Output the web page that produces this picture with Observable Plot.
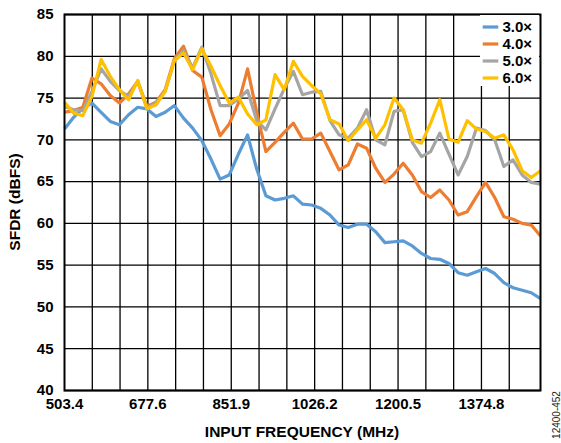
<!DOCTYPE html>
<html><head><meta charset="utf-8">
<script src="https://cdn.jsdelivr.net/npm/d3@7"></script>
<script src="https://cdn.jsdelivr.net/npm/@observablehq/plot@0.6"></script>
<style>body{margin:0;background:#fff} #chart{width:561px;height:443px}</style>
</head><body><div id="chart"></div>
<script>
const freqs = [503.4, 522.5, 541.7, 560.8, 579.9, 599.1, 618.2, 637.3, 656.4, 675.6,
  694.7, 713.8, 733.0, 752.1, 771.2, 790.4, 809.5, 828.6, 847.7, 866.9,
  886.0, 905.1, 924.3, 943.4, 962.5, 981.7, 1000.8, 1019.9, 1039.0, 1058.2,
  1077.3, 1096.4, 1115.6, 1134.7, 1153.8, 1173.0, 1192.1, 1211.2, 1230.3, 1249.5,
  1268.6, 1287.7, 1306.9, 1326.0, 1345.1, 1364.3, 1383.4, 1402.5, 1421.6, 1440.8,
  1459.9, 1479.0, 1498.2];
const s30 = [71.3, 72.7, 73.8, 74.4, 73.3, 72.2, 71.8, 73.0, 73.9, 73.7,
  72.8, 73.3, 74.1, 72.6, 71.4, 69.9, 67.7, 65.3, 65.8, 68.3,
  70.6, 66.5, 63.3, 62.8, 63.0, 63.3, 62.3, 62.2, 61.8, 61.0,
  59.8, 59.5, 59.9, 59.9, 59.0, 57.7, 57.8, 57.9, 57.3, 56.4,
  55.8, 55.7, 55.2, 54.1, 53.8, 54.2, 54.6, 54.0, 52.9, 52.3,
  52.0, 51.7, 51.0];
const s40 = [73.3, 73.5, 73.9, 77.4, 76.7, 75.3, 74.4, 75.5, 77.0, 74.0,
  74.5, 76.0, 79.7, 81.2, 78.3, 77.5, 73.6, 70.5, 71.9, 74.4,
  78.5, 73.3, 68.6, 69.7, 70.9, 72.0, 70.1, 70.1, 70.8, 68.6,
  66.4, 67.0, 69.5, 69.0, 66.6, 64.9, 65.9, 67.2, 65.8, 63.8,
  63.1, 64.0, 62.8, 61.0, 61.4, 63.2, 64.9, 63.1, 60.8, 60.5,
  60.0, 59.8, 58.5];
const s50 = [74.0, 73.6, 73.5, 75.8, 78.5, 77.0, 75.9, 75.2, 77.0, 73.8,
  74.4, 75.8, 79.5, 80.7, 78.6, 81.1, 77.9, 74.1, 74.1, 74.9,
  75.9, 72.3, 71.2, 73.7, 76.1, 78.2, 75.4, 75.7, 75.8, 72.3,
  70.6, 70.2, 71.4, 73.6, 70.0, 69.4, 73.4, 73.6, 69.7, 68.0,
  68.6, 70.8, 68.3, 65.8, 68.0, 71.4, 71.1, 70.0, 66.8, 67.6,
  65.8, 64.9, 64.7];
const s60 = [74.5, 73.2, 72.9, 75.2, 79.6, 77.6, 76.0, 74.8, 77.1, 73.7,
  74.2, 75.8, 79.5, 80.4, 78.4, 80.9, 78.8, 76.5, 74.4, 75.1,
  73.1, 71.8, 72.4, 77.8, 76.0, 79.4, 77.6, 76.5, 75.5, 72.4,
  71.9, 69.9, 71.2, 72.4, 70.2, 71.8, 75.0, 73.6, 70.0, 69.6,
  72.0, 74.8, 70.1, 69.7, 72.3, 71.3, 71.0, 70.2, 70.6, 68.8,
  66.3, 65.5, 66.3];
const seriesNames = ["3.0\u00d7", "4.0\u00d7", "5.0\u00d7", "6.0\u00d7"];
const seriesColors = ["#5B9BD5", "#ED7D31", "#A5A5A5", "#FFC000"];
const xTickLabels = [503.4, 677.6, 851.9, 1026.2, 1200.5, 1374.8];
const xGridLines = [561.5, 619.5, 677.6, 735.7, 793.8, 851.9, 910.0, 968.1, 1026.2,
  1084.3, 1142.4, 1200.5, 1258.6, 1316.7, 1374.8, 1432.9];
const yTicks = [40, 45, 50, 55, 60, 65, 70, 75, 80, 85];
const xDomain = [503.4, 1498.2];

const allSeries = [s30, s40, s50, s60];
const lineMarks = allSeries.map((vals, k) =>
  Plot.line(freqs.map((f, i) => ({f, v: vals[i]})), {
    x: "f", y: "v", stroke: seriesColors[k], strokeWidth: 3.2,
    strokeLinejoin: "round", strokeLinecap: "butt"
  })
);

const W = 561, H = 443, mL = 64, mR = 21, mT = 14, mB = 53;
const FONT = "'Liberation Sans', Arial, sans-serif";
const chart = Plot.plot({
  width: W, height: H,
  marginLeft: mL, marginRight: mR, marginTop: mT, marginBottom: mB,
  style: {fontFamily: FONT, fontSize: "15px", fontWeight: "bold", color: "black", background: "white"},
  x: {domain: xDomain},
  y: {domain: [40, 85]},
  marks: [
    Plot.ruleX(xGridLines, {stroke: "black", strokeWidth: 1.3}),
    Plot.ruleY(yTicks, {stroke: "black", strokeWidth: 1.3}),
    ...lineMarks,
    Plot.frame({stroke: "black", strokeWidth: 2}),
    Plot.axisX(xTickLabels, {tickSize: 0, tickPadding: 8, tickFormat: d => d.toFixed(1), label: null, fontSize: 15, fontWeight: "bold"}),
    Plot.axisY(yTicks, {tickSize: 0, tickPadding: 11, label: null, fontSize: 15, fontWeight: "bold"})
  ]
});
document.getElementById("chart").appendChild(chart);

const svg = d3.select(chart);
const right = W - mR;
// legend
const lg = svg.append("g")
  .attr("font-family", FONT).attr("font-weight", "bold").attr("font-size", 15).attr("text-anchor", "start");
lg.append("rect").attr("x", right - 60).attr("y", mT + 1).attr("width", 59).attr("height", 71)
  .attr("fill", "#ffffff").style("fill", "#ffffff").attr("stroke", "none");
seriesNames.forEach((name, k) => {
  const y = mT + 13 + k * 17;
  lg.append("line").attr("x1", right - 57.3).attr("x2", right - 41.7).attr("y1", y).attr("y2", y)
    .attr("stroke", seriesColors[k]).attr("stroke-width", 3.2);
  lg.append("text").attr("x", right - 37.5).attr("y", y).attr("dy", "0.35em")
    .attr("fill", "black").attr("text-anchor", "start").text(name);
});
// titles
const tg = svg.append("g").attr("font-family", FONT).attr("font-weight", "bold").attr("font-size", 15.5).attr("fill", "black");
tg.append("text").attr("x", (mL + right) / 2).attr("y", 437).attr("text-anchor", "middle").text("INPUT FREQUENCY (MHz)");
tg.append("text").attr("transform", `translate(15,${(mT + H - mB) / 2}) rotate(-90)`).attr("text-anchor", "middle").attr("dy", "0.35em").text("SFDR (dBFS)");
svg.append("text").attr("transform", "translate(556.5,415) rotate(-90)").attr("text-anchor", "middle").attr("dy", "0.35em")
  .attr("font-family", FONT).attr("font-size", 10).attr("font-weight", "normal").attr("fill", "#222").text("12400-452");
</script></body></html>
